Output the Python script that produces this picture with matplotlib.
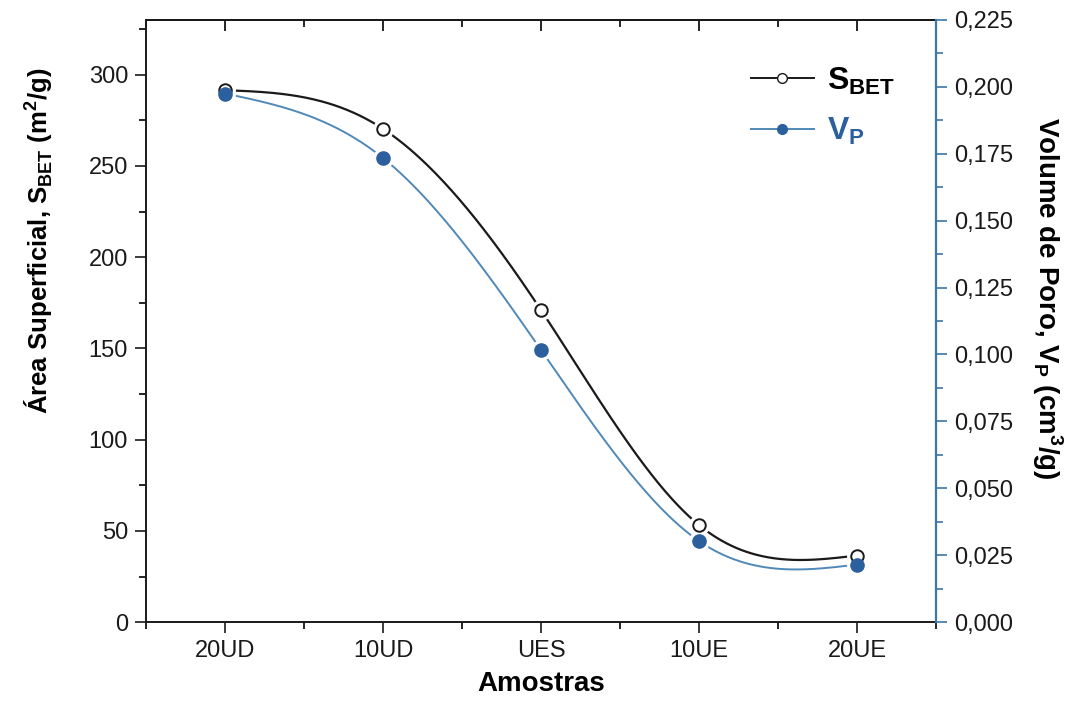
import matplotlib
matplotlib.use("Agg")
import matplotlib.pyplot as plt
import numpy as np
from matplotlib.lines import Line2D
from matplotlib.ticker import MultipleLocator, FuncFormatter

plt.rcParams["font.family"] = ["Liberation Sans", "DejaVu Sans"]
plt.rcParams["mathtext.fontset"] = "custom"
plt.rcParams["mathtext.rm"] = "Liberation Sans"
plt.rcParams["mathtext.bf"] = "Liberation Sans:bold"

samples = ["20UD", "10UD", "UES", "10UE", "20UE"]
s_bet = [291.5, 270.3, 171.0, 53.2, 36.5]          # m2/g
v_pore = [0.1975, 0.1734, 0.1017, 0.0303, 0.0215]  # cm3/g

BLACK = "#1a1a1a"
BLUE_LINE = "#5089b8"
BLUE_MARK = "#2c5f9e"
BLUE_AXIS = "#3d77a8"


def natural_spline(x, y, xs):
    # natural cubic spline, like the smooth connector in the original plot
    x = np.asarray(x, float)
    y = np.asarray(y, float)
    n = len(x)
    h = np.diff(x)
    A = np.zeros((n, n))
    r = np.zeros(n)
    A[0, 0] = A[-1, -1] = 1
    for i in range(1, n - 1):
        A[i, i - 1] = h[i - 1]
        A[i, i] = 2 * (h[i - 1] + h[i])
        A[i, i + 1] = h[i]
        r[i] = 3 * ((y[i + 1] - y[i]) / h[i] - (y[i] - y[i - 1]) / h[i - 1])
    c = np.linalg.solve(A, r)
    b = (y[1:] - y[:-1]) / h - h * (2 * c[:-1] + c[1:]) / 3
    d = (c[1:] - c[:-1]) / (3 * h)
    idx = np.clip(np.searchsorted(x, xs) - 1, 0, n - 2)
    dx = xs - x[idx]
    return y[idx] + b[idx] * dx + c[idx] * dx ** 2 + d[idx] * dx ** 3


def comma(decimals):
    return FuncFormatter(lambda v, _: f"{v:.{decimals}f}".replace(".", ","))


x = np.arange(1, len(samples) + 1)
xs = np.linspace(x[0], x[-1], 400)

fig = plt.figure(figsize=(10.82, 7.11), dpi=100)
ax = fig.add_axes([0.135, 0.125, 0.73, 0.847])
ax2 = ax.twinx()

ax.plot(xs, natural_spline(x, s_bet, xs), color=BLACK, lw=1.6, zorder=2)
ax2.plot(xs, natural_spline(x, v_pore, xs), color=BLUE_LINE, lw=1.4, zorder=2)

# markers all go on ax2 so the blue dot can sit on top of the open circle;
# white halos underneath give the gap between line and marker
ax2.plot(x, s_bet, "o", ms=14, color="white", transform=ax.transData, zorder=3)
ax2.plot(x, v_pore, "o", ms=14, color="white", zorder=3)
ax2.plot(x, s_bet, "o", ms=9, mfc="white", mec=BLACK, mew=1.4,
         transform=ax.transData, zorder=4)
ax2.plot(x, v_pore, "o", ms=9.5, color=BLUE_MARK, zorder=5)

ax.set_xlim(0.5, 5.5)
ax.set_ylim(0, 330)
ax2.set_ylim(0, 0.225)

ax.set_xticks(x, samples)
ax.xaxis.set_minor_locator(MultipleLocator(0.5))
ax.yaxis.set_major_locator(MultipleLocator(50))
ax.yaxis.set_minor_locator(MultipleLocator(25))
ax2.yaxis.set_major_locator(MultipleLocator(0.025))
ax2.yaxis.set_minor_locator(MultipleLocator(0.0125))
ax2.yaxis.set_major_formatter(comma(3))

ax.tick_params(axis="both", which="major", direction="out", length=8, width=1.2,
               labelsize=17, pad=5, colors=BLACK)
ax.tick_params(axis="both", which="minor", direction="out", length=5, width=1.2)
ax2.tick_params(axis="y", which="major", length=8, width=1.2, colors=BLUE_AXIS,
                labelcolor=BLACK, labelsize=17, pad=5)
ax2.tick_params(axis="y", which="minor", length=5, width=1.2, colors=BLUE_AXIS)

# top axis: same ticks, pointing inwards, no labels
top = ax.secondary_xaxis("top")
top.set_xticks(x)
top.xaxis.set_minor_locator(MultipleLocator(0.5))
top.tick_params(which="major", direction="in", length=8, width=1.2, labeltop=False)
top.tick_params(which="minor", direction="in", length=5, width=1.2)
top.spines["top"].set_linewidth(1.4)

for side in ("left", "bottom", "top"):
    ax.spines[side].set_linewidth(1.4)
    ax.spines[side].set_color(BLACK)
ax.spines["right"].set_visible(False)
ax2.spines["right"].set_color(BLUE_AXIS)
ax2.spines["right"].set_linewidth(1.6)
for side in ("left", "bottom", "top"):
    ax2.spines[side].set_visible(False)

ax.set_xlabel("Amostras", fontsize=20, fontweight="bold", labelpad=6)
ax.set_ylabel(r"Área Superficial, S$_\mathbf{BET}$ (m$^\mathbf{2}$/g)",
              fontsize=18.5, fontweight="bold")
ax2.set_ylabel(r"Volume de Poro, V$_\mathbf{P}$ (cm$^\mathbf{3}$/g)",
               fontsize=20, fontweight="bold", rotation=270)
# the original labels sit a bit above the middle of the axis
ax.yaxis.set_label_coords(-0.115, 0.633)
ax2.yaxis.set_label_coords(1.163, 0.538)

handles = [
    Line2D([], [], color=BLACK, lw=1.4, marker="o", ms=7, mfc="white", mec=BLACK),
    Line2D([], [], color=BLUE_LINE, lw=1.4, marker="o", ms=7,
           mfc=BLUE_MARK, mec=BLUE_MARK),
]
leg = ax2.legend(handles, [r"$\mathbf{S_{BET}}$", r"$\mathbf{V_P}$"],
                 loc="upper right", bbox_to_anchor=(0.985, 0.972), frameon=False,
                 fontsize=23, handlelength=2.0, handletextpad=0.4, labelspacing=0.6)
leg.get_texts()[1].set_color(BLUE_MARK)

fig.savefig("out.png", dpi=100)
